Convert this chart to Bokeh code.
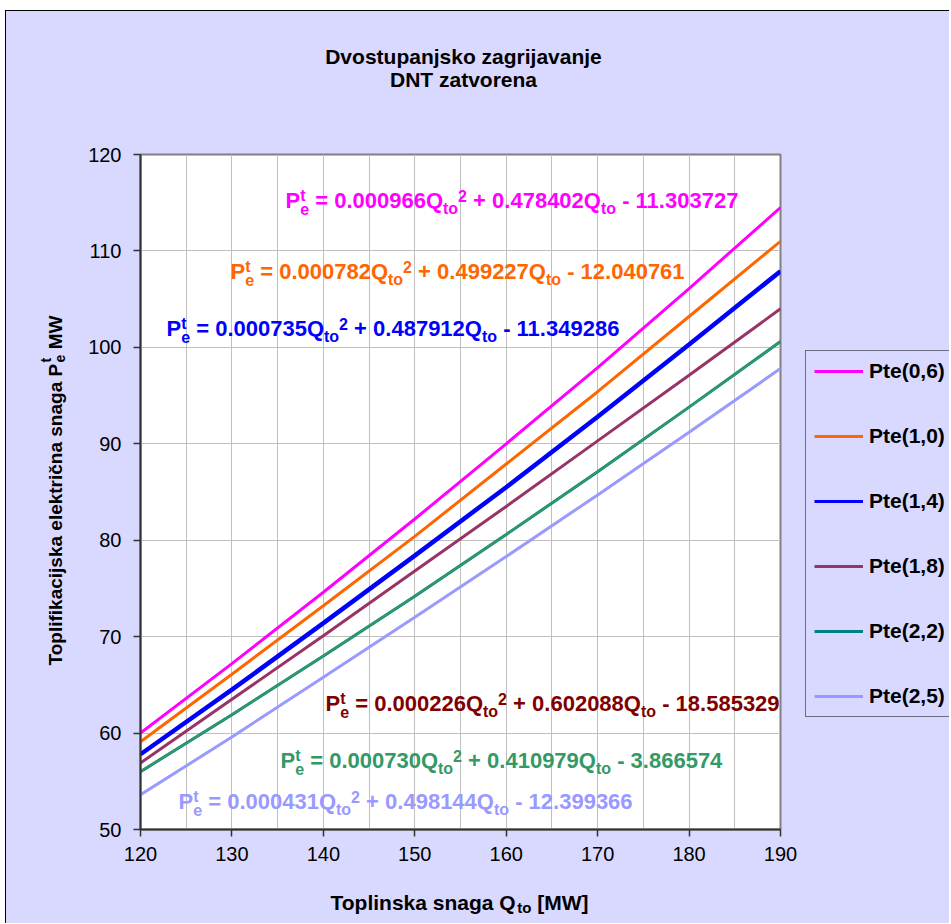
from math import pi
from bokeh.plotting import figure
from bokeh.layouts import row
from bokeh.models import ColumnDataSource, Legend, LegendItem, SingleIntervalTicker
from bokeh.core.properties import value
from bokeh.embed import file_html
from bokeh.resources import INLINE

# ---------------- data ----------------
q_to = [120, 130, 140, 150, 160, 170, 180, 190]
pte_06 = [60.0, 67.2, 74.6, 82.2, 90.0, 97.9, 106.1, 114.5]
pte_10 = [59.1, 66.1, 73.2, 80.4, 87.9, 95.4, 103.2, 111.0]
pte_14 = [57.8, 64.5, 71.4, 78.4, 85.5, 92.8, 100.3, 107.9]
pte_18 = [56.9, 63.5, 70.1, 76.8, 83.5, 90.3, 97.1, 104.0]
pte_22 = [56.0, 61.9, 68.0, 74.2, 80.6, 87.1, 93.8, 100.6]
pte_25 = [53.6, 59.6, 65.8, 72.0, 78.3, 84.7, 91.2, 97.8]

series_names = ["Pte(0,6)", "Pte(1,0)", "Pte(1,4)", "Pte(1,8)", "Pte(2,2)", "Pte(2,5)"]
series_values = [pte_06, pte_10, pte_14, pte_18, pte_22, pte_25]
line_colors = ["#FF00FF", "#FF6600", "#0000FF", "#993366", "#008080", "#9999FF"]
trend_colors = ["#FF00FF", "#FF6600", "#0000FF", "#993366", "#339966", "#9999FF"]
eq_colors = ["#FF00FF", "#FF6600", "#0000FF", "#800000", "#339966", "#9999FF"]
eq_a = ["0.000966", "0.000782", "0.000735", "0.000226", "0.000730", "0.000431"]
eq_b = ["0.478402", "0.499227", "0.487912", "0.602088", "0.410979", "0.498144"]
eq_c = ["11.303727", "12.040761", "11.349286", "18.585329", "3.866574", "12.399366"]

title_lines = ["Dvostupanjsko zagrijavanje", "DNT zatvorena"]

# ---------------- layout constants ----------------
OFF_X, OFF_Y = 6, 11          # chart area starts after a white strip and a thin border
H = 912
LEFT, TOP, FW, FH, RB = 134, 143, 640, 675, 20
W1 = LEFT + FW + RB           # main figure width
W2 = 149                      # legend strip width
X_MIN, X_MAX, Y_MIN, Y_MAX = 120, 190, 50, 120
SX = FW / (X_MAX - X_MIN)
SY = FH / (Y_MAX - Y_MIN)
FONT = "Liberation Sans"
BG = "#D9D9FF"

def to_data(px_, py_):
    return X_MIN + (px_ - (OFF_X + LEFT)) / SX, Y_MAX - (py_ - (OFF_Y + TOP)) / SY

# Arial / Liberation Sans Bold advance widths (1/1000 em)
BOLD = {' ': 278, '+': 584, '-': 333, '.': 278, '=': 584, '(': 333, ')': 333, ',': 278,
        '[': 333, ']': 333, 'A': 722, 'D': 722, 'M': 833, 'N': 722, 'P': 667, 'Q': 778,
        'T': 611, 'W': 944, 'a': 556, 'c': 556, 'č': 556, 'e': 556, 'f': 333, 'g': 611,
        'i': 278, 'j': 278, 'k': 556, 'l': 278, 'n': 611, 'o': 611, 'p': 611, 'r': 389,
        's': 556, 't': 333, 'v': 556, 'z': 500}
for d in "0123456789":
    BOLD[d] = 556

def tw(s, size):
    return sum(BOLD.get(ch, 556) for ch in s) * size / 1000.0

p = figure(width=W1, height=H, x_range=(X_MIN, X_MAX), y_range=(Y_MIN, Y_MAX),
           output_backend="svg", toolbar_location=None,
           min_border_left=LEFT, min_border_right=RB,
           min_border_top=TOP, min_border_bottom=H - TOP - FH)
p.border_fill_color = BG
p.background_fill_color = "white"
p.outline_line_color = "#808080"
p.outline_line_width = 2

p.xaxis.ticker = SingleIntervalTicker(interval=10, num_minor_ticks=2)
p.yaxis.ticker = SingleIntervalTicker(interval=10, num_minor_ticks=0)
p.xgrid.grid_line_color = "#C0C0C0"
p.xgrid.minor_grid_line_color = "#C0C0C0"
p.ygrid.grid_line_color = "#C0C0C0"
for ax in (p.xaxis[0], p.yaxis[0]):
    ax.axis_line_color = "#333333"
    ax.axis_line_width = 2
    ax.major_tick_line_color = "#333333"
    ax.major_tick_line_width = 1.5
    ax.major_tick_out = 7
    ax.major_tick_in = 0
    ax.minor_tick_line_color = None
    ax.major_label_text_font = FONT
    ax.major_label_text_font_size = "20px"
    ax.major_label_text_color = "black"
p.xaxis.major_label_standoff = 10
p.yaxis.major_label_standoff = 12

src = ColumnDataSource(dict(q=q_to, **{f"s{i}": v for i, v in enumerate(series_values)}))
for i, name in enumerate(series_names):
    lw = 4.5 if i == 2 else 3
    p.line("q", f"s{i}", source=src, line_color=line_colors[i], line_width=lw)
    if trend_colors[i] != line_colors[i]:
        p.line("q", f"s{i}", source=src, line_color=trend_colors[i], line_width=2)

# ---------------- legend strip (second figure, same series styles) ----------------
p2 = figure(width=W2, height=H, x_range=(0, 1), y_range=(0, 1),
            output_backend="svg", toolbar_location=None,
            x_axis_type=None, y_axis_type=None, min_border=0)
p2.border_fill_color = BG
p2.background_fill_color = BG
p2.outline_line_color = None
p2.xgrid.visible = False
p2.ygrid.visible = False
items = []
for i, name in enumerate(series_names):
    r = p2.line("q", f"s{i}", source=src, line_color=line_colors[i], line_width=3)
    items.append(LegendItem(label=name, renderers=[r]))
legend = Legend(items=items, location=(5, 112),
                orientation="vertical",
                label_text_font=FONT, label_text_font_style="bold",
                label_text_font_size="21px", label_text_color="black",
                glyph_width=49, glyph_height=24, label_height=24, spacing=41,
                padding=8, label_standoff=6, margin=0,
                border_line_color="black", border_line_width=1,
                background_fill_alpha=0)
p2.add_layout(legend, "center")

# ---------------- rich text (sub/superscripts) drawn as text glyphs ----------------
T = dict(x=[], y=[], text=[], size=[], color=[], angle=[], align=[])

def put(px_, py_, text, size, color, angle=0.0, align="left"):
    x, y = to_data(px_, py_)
    T["x"].append(x); T["y"].append(y); T["text"].append(text)
    T["size"].append(f"{size}px"); T["color"].append(color)
    T["angle"].append(angle); T["align"].append(align)

def rich(groups, start_px, base_px, size, sub_size, sup_shift, sub_shift, color, rotated=False):
    adv = 0.0
    for grp in groups:
        gw = 0.0
        for text, kind in grp:
            fs = size if kind == "n" else sub_size
            shift = 0 if kind == "n" else (sup_shift if kind == "sup" else sub_shift)
            stripped = text.lstrip(" ")
            lead = tw(text[:len(text) - len(stripped)], fs)
            if rotated:
                put(base_px + shift, start_px - adv - lead, stripped, fs, color, pi / 2)
            else:
                put(start_px + adv + lead, base_px + shift, stripped, fs, color)
            gw = max(gw, tw(text, fs))
        adv += gw

# trendline equations
eq_pos = [(285, 200), (230, 271), (166, 328), (325, 703), (280, 760), (178, 801)]
for i in range(6):
    groups = [[("P", "n")], [("t", "sup"), ("e", "sub")],
              [(" = " + eq_a[i] + "Q", "n")], [("to", "sub")], [("2", "sup")],
              [(" + " + eq_b[i] + "Q", "n")], [("to", "sub")],
              [(" - " + eq_c[i], "n")]]
    rich(groups, eq_pos[i][0], eq_pos[i][1], 22, 16, -5, 8, eq_colors[i])

# x axis label
rich([[("Toplinska snaga Q", "n")], [("to", "sub")], [(" [MW]", "n")]],
     330, 902, 21, 15, -6, 5, "black")

# y axis label (rotated)
rich([[("Toplifikacijska električna snaga P", "n")], [("t", "sup"), ("e", "sub")],
      [(" MW", "n")]],
     665, 55, 19, 14, -10, 4, "black", rotated=True)

# title
for txt, base in zip(title_lines, (56, 79)):
    put(463, base, txt, 21, "black", 0.0, "center")

tsrc = ColumnDataSource(T)
p.text("x", "y", text="text", source=tsrc, text_font=value(FONT), text_font_style="bold",
       text_font_size="size", text_color="color", angle="angle", text_align="align",
       text_baseline="alphabetic", level="overlay")

layout = row(p, p2, spacing=0,
             styles={"background-color": BG, "margin-left": "5px", "margin-top": "10px",
                     "border-left": "1px solid #000000", "border-top": "1px solid #000000"})
open("out.html", "w").write(file_html(layout, INLINE))
